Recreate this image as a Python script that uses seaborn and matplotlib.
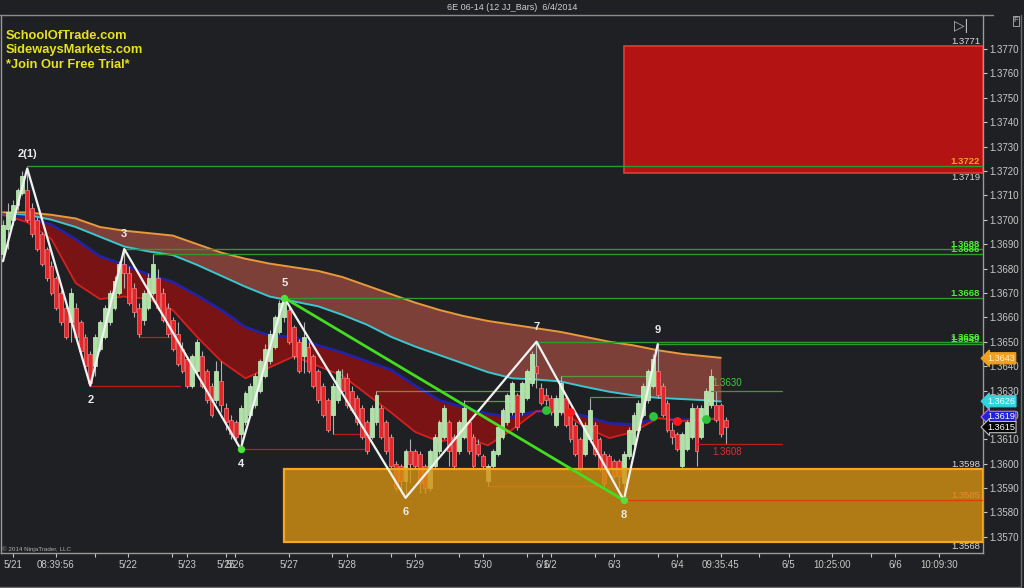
import numpy as np
import matplotlib
matplotlib.use("Agg")
import matplotlib.pyplot as plt
import matplotlib.transforms as mtransforms
from matplotlib.lines import Line2D
from matplotlib.patches import Rectangle
import seaborn as sns

# ---------------- data (prices stored as 1/10000 above 1.3500) ----------------
BASE = 1.35
SCALE = 10000.0

OPEN = [186, 196, 200, 206, 211, 212, 205, 200, 194, 188, 181, 176, 170, 164, 158, 164, 158, 152, 145, 140,
        147, 152, 158, 164, 170, 182, 178, 172, 164, 159, 164, 170, 176, 170, 164, 159, 153, 147, 143, 132,
        138, 144, 138, 132, 126, 134, 123, 118, 117, 112, 117, 120, 124, 130, 136, 142, 148, 154, 160, 163,
        156, 150, 144, 148, 144, 138, 132, 126, 120, 126, 135, 135, 130, 127, 123, 117, 111, 117, 123, 117,
        111, 100, 99, 93, 105, 105, 104, 99, 90, 99, 105, 111, 117, 111, 105, 111, 117, 111, 108, 103,
        93, 99, 104, 111, 117, 121, 128, 121, 127, 133, 140, 131, 128, 127, 116, 121, 127, 121, 116, 110,
        104, 110, 116, 110, 104, 103, 101, 101, 92, 103, 108, 114, 120, 126, 132, 138, 132, 125, 114, 112,
        99, 106, 111, 123, 111, 118, 124, 124, 124, 118]
CLOSE = [198, 203, 206, 212, 218, 200, 194, 188, 182, 176, 170, 164, 158, 152, 170, 152, 146, 140, 133, 152,
         158, 164, 170, 175, 182, 178, 166, 162, 153, 170, 176, 182, 164, 159, 153, 147, 141, 138, 132, 144,
         150, 132, 126, 120, 138, 124, 117, 112, 111, 123, 129, 132, 136, 142, 147, 153, 160, 166, 167, 150,
         144, 138, 152, 138, 132, 126, 120, 114, 132, 138, 130, 124, 122, 117, 111, 105, 123, 128, 111, 105,
         99, 90, 93, 105, 100, 99, 92, 90, 105, 111, 117, 123, 105, 99, 117, 123, 105, 99, 104, 99,
         99, 105, 115, 122, 128, 133, 115, 133, 138, 145, 137, 125, 126, 121, 127, 133, 116, 110, 104, 98,
         116, 122, 104, 98, 92, 98, 95, 95, 104, 114, 120, 125, 132, 138, 143, 128, 120, 114, 111, 106,
         112, 117, 123, 105, 123, 130, 136, 118, 112, 115]
HIGH = [200, 207, 208, 213, 220, 221, 207, 201, 195, 189, 183, 177, 171, 166, 172, 166, 159, 153, 146, 153,
        159, 165, 171, 177, 183, 188, 181, 174, 166, 171, 178, 186, 180, 172, 166, 160, 158, 150, 144, 145,
        151, 146, 139, 133, 142, 142, 125, 120, 118, 124, 130, 133, 137, 143, 149, 155, 161, 167, 168, 165,
        157, 151, 158, 150, 145, 139, 133, 127, 133, 139, 139, 137, 132, 128, 124, 118, 124, 130, 124, 118,
        112, 101, 100, 106, 110, 106, 105, 100, 106, 112, 118, 124, 118, 112, 118, 126, 118, 112, 110, 104,
        100, 106, 116, 123, 129, 134, 129, 134, 139, 146, 150, 133, 131, 128, 128, 136, 128, 122, 117, 111,
        117, 127, 117, 111, 105, 104, 102, 102, 105, 115, 121, 126, 133, 139, 145, 149, 133, 126, 117, 113,
        113, 118, 125, 124, 124, 131, 139, 130, 125, 119]
LOW = [183, 188, 198, 204, 210, 199, 193, 187, 181, 175, 169, 163, 157, 151, 150, 151, 145, 139, 132, 136,
       146, 151, 157, 163, 169, 172, 165, 160, 152, 157, 163, 169, 163, 158, 152, 146, 140, 137, 131, 131,
       137, 131, 125, 119, 125, 121, 114, 110, 109, 106, 116, 119, 123, 129, 135, 141, 147, 153, 158, 149,
       143, 137, 137, 137, 131, 125, 119, 113, 112, 125, 129, 123, 121, 116, 110, 104, 110, 116, 110, 104,
       98, 89, 88, 86, 92, 98, 88, 88, 89, 98, 104, 110, 99, 98, 104, 110, 104, 98, 103, 98,
       91, 98, 103, 110, 116, 120, 114, 120, 126, 132, 131, 124, 124, 120, 115, 120, 115, 109, 103, 97,
       103, 109, 103, 97, 91, 96, 94, 90, 85, 102, 107, 113, 119, 125, 131, 127, 119, 113, 108, 105,
       98, 105, 110, 99, 110, 117, 123, 117, 111, 108]

# swing zigzag
ZZ_BAR = [0, 5, 18, 25, 49, 58, 83, 110, 128, 135]
ZZ_PRICE = [183, 221, 132, 188, 106, 168, 86, 150, 85, 149]
ZZ_TEXT = ["", "2(1)", "2", "3", "4", "5", "6", "7", "8", "9"]

# moving-average ribbon, read every 5 bars
MA_X = [0, 5, 10, 15, 20, 25, 30, 35, 40, 45, 50, 55, 60, 65, 70, 75, 80, 85, 90, 95,
        100, 105, 110, 115, 120, 125, 130, 135, 140, 145, 148]
MA_ORANGE = [203, 203, 202, 200.5, 197, 195.5, 194.5, 193.5, 190, 186.5, 184, 182, 180.5, 179, 176.5, 173,
             169.5, 166, 163, 160.5, 158.5, 157, 155.5, 154, 152, 150, 148.5, 146.5, 145, 144, 143.4]
MA_CYAN = [202, 202, 200, 197, 193, 189, 187, 185.5, 181.5, 177, 172.5, 168.5, 166.5, 164.5, 161, 157,
           152, 148, 144.5, 141, 137.5, 135, 134.5, 133.7, 131.5, 129.5, 128, 127, 126.5, 126, 125.5]
MA_BLUE = [202, 201, 198, 192, 185, 181.5, 177.5, 174.5, 169, 163, 156, 152.5, 152, 148.5, 145.5, 142,
           138.5, 132, 126, 123, 120.5, 119, 121.5, 121.5, 119.5, 116.6, 116, 118.7, 118, 118.4, 118.7]
MA_RED = [202, 199, 192, 174, 167.5, 168.5, 167.5, 163, 152, 142, 135, 139.5, 144, 140, 136, 128.5,
          121, 113, 109, 111, 107.5, 114, 121.5, 121.5, 115, 110.5, 113, 118.7, 117.5, 118, 118.7]

# cross dots on ribbon
XDOT_BAR = [112, 117, 134, 139, 145]
XDOT_PRICE = [122, 121, 119.5, 117.5, 118.5]
XDOT_UP = [True, False, True, False, True]

# horizontal levels from swing highs (green) – start bar, price, label
LEVEL_START = [5, 25, 31, 58, 110, 135]
LEVEL_PRICE = [222, 188, 186, 168, 150, 149]
LEVEL_TEXT = ["1.3722", "1.3688", "1.3686", "1.3668", "1.3650", "1.3649"]

# short swing lines: start, end, price
RED_SW_START = [18, 28, 49, 68, 100]
RED_SW_END = [36.5, 36.5, 75, 75, 124]
RED_SW_PRICE = [132, 152, 106, 112, 91]
GRN_SW_START = [77, 95, 115, 121]
GRN_SW_END = [107.5, 106, 133, 133]
GRN_SW_PRICE = [130, 125.5, 136, 127.5]

# zones
SUPPLY_START, SUPPLY_TOP, SUPPLY_BOT = 128, 271, 219
DEMAND_START, DEMAND_TOP, DEMAND_BOT = 57.9, 98, 68
DEMAND_MID = 85

# x axis labels
XT_POS = [2.0, 10.9, 19.0, 25.8, 34.8, 38.0, 46.0, 47.9, 58.9, 67.9, 71.0, 80.0, 84.9, 94.1, 99.0,
          108.0, 111.1, 112.9, 122.1, 126.0, 135.1, 139.0, 148.0, 155.9, 162.0, 170.9, 179.0, 184.0, 193.0]
XT_LAB = ["5/21", "08:39:56", "", "5/22", "", "5/23", "5/25", "5/26", "5/27", "", "5/28", "", "5/29", "",
          "5/30", "", "6/1", "6/2", "", "6/3", "", "6/4", "09:35:45", "", "6/5", "10:25:00", "", "6/6",
          "10:09:30"]
Y_TICKS = [3570, 3580, 3590, 3600, 3610, 3620, 3630, 3640, 3650, 3660, 3670, 3680, 3690, 3700, 3710,
           3720, 3730, 3740, 3750, 3760, 3770]


def P(v):
    return BASE + np.asarray(v, dtype=float) / SCALE


# ---------------- style ----------------
BG = "#1f2023"
sns.set_theme(style="dark", rc={"axes.facecolor": BG, "figure.facecolor": BG})
plt.rcParams["font.family"] = ["Liberation Sans", "DejaVu Sans"]

fig = plt.figure(figsize=(10.24, 5.88), dpi=100)
fig.patch.set_facecolor(BG)
ax = fig.add_axes([1 / 1024, 35 / 588, 982 / 1024, 538 / 588])
ax.set_facecolor(BG)
ax.grid(False)

XMIN, XMAX = -0.41, 202.06
ax.set_xlim(XMIN, XMAX)
ax.set_ylim(1.35634, 1.37839)

# ribbon fills
mx = np.array(MA_X, float)
o_, c_, b_, r_ = P(MA_ORANGE), P(MA_CYAN), P(MA_BLUE), P(MA_RED)
ax.fill_between(mx, c_, o_, color="#7c4039", lw=0, zorder=1)
ax.fill_between(mx, r_, b_, where=b_ >= r_, interpolate=True, color="#7a1414", lw=0, zorder=1)
sns.lineplot(x=mx, y=o_, ax=ax, color="#e89a3c", linewidth=1.4, zorder=2, legend=False)
sns.lineplot(x=mx, y=c_, ax=ax, color="#3cc6cf", linewidth=1.4, zorder=2, legend=False)
sns.lineplot(x=mx, y=b_, ax=ax, color="#2222a8", linewidth=1.9, zorder=2, legend=False)
sns.lineplot(x=mx, y=r_, ax=ax, color="#d42020", linewidth=1.3, zorder=2, legend=False)

# swing lines
for s, e, p in zip(RED_SW_START, RED_SW_END, RED_SW_PRICE):
    ax.plot([s, e], [P(p), P(p)], color="#b82020", lw=0.9, zorder=2.5)
for s, e, p in zip(GRN_SW_START, GRN_SW_END, GRN_SW_PRICE):
    ax.plot([s, e], [P(p), P(p)], color="#5a9a3a", lw=0.9, zorder=2.5)

# candles
o = P(OPEN); c = P(CLOSE); h = P(HIGH); l = P(LOW)
idx = np.arange(len(o))
up = c >= o
ax.vlines(idx, l, h, color="#b0b0b0", lw=0.8, zorder=3)
ax.bar(idx[up], (c - o)[up], bottom=o[up], width=0.8, color="#ade3a5", edgecolor="#d0f5c8",
       linewidth=0.5, zorder=4)
ax.bar(idx[~up], (o - c)[~up], bottom=c[~up], width=0.8, color="#e2262a", edgecolor="#ff7a7a",
       linewidth=0.5, zorder=4)

# zones
ax.add_patch(Rectangle((SUPPLY_START, P(SUPPLY_BOT)), XMAX - SUPPLY_START, P(SUPPLY_TOP) - P(SUPPLY_BOT),
                       fc="#c01212", ec="none", alpha=0.93, zorder=5))
ax.add_patch(Rectangle((SUPPLY_START, P(SUPPLY_BOT)), XMAX - SUPPLY_START, P(SUPPLY_TOP) - P(SUPPLY_BOT),
                       fc="none", ec="#e23a3a", lw=1.2, zorder=5.2))
ax.add_patch(Rectangle((DEMAND_START, P(DEMAND_BOT)), XMAX - DEMAND_START, P(DEMAND_TOP) - P(DEMAND_BOT),
                       fc="#d69212", ec="none", alpha=0.8, zorder=5))
ax.add_patch(Rectangle((DEMAND_START, P(DEMAND_BOT)), XMAX - DEMAND_START, P(DEMAND_TOP) - P(DEMAND_BOT),
                       fc="none", ec="#f5a623", lw=1.6, zorder=5.2))
ax.plot([ZZ_BAR[8], XMAX], [P(DEMAND_MID), P(DEMAND_MID)], color="#e03a10", lw=0.9, zorder=5.5)

# level lines
for s, p in zip(LEVEL_START, LEVEL_PRICE):
    ax.plot([s, XMAX], [P(p), P(p)], color="#2e9a2e", lw=1.0, zorder=5.5)

# recent short levels
ax.plot([146, 160.6], [P(130), P(130)], color="#3a9a3a", lw=0.9, zorder=5.5)
ax.plot([143.1, 160.6], [P(108), P(108)], color="#b82020", lw=0.9, zorder=5.5)
ax.text(146.2, P(131), "1.3630", color="#3ad03a", fontsize=7, ha="left", va="bottom", zorder=6)
ax.text(146.2, P(107), "1.3608", color="#d83030", fontsize=7, ha="left", va="top", zorder=6)

# zigzag + trendline
sns.lineplot(x=ZZ_BAR, y=P(ZZ_PRICE), ax=ax, sort=False, estimator=None, color="#f2f2f2",
             linewidth=1.6, zorder=7, legend=False)
ax.plot([ZZ_BAR[5], ZZ_BAR[8]], [P(ZZ_PRICE[5]), P(ZZ_PRICE[8])], color="#44dd22", lw=2.0, zorder=7)
for k in (4, 5, 8):
    ax.scatter([ZZ_BAR[k]], [P(ZZ_PRICE[k])], s=28, color="#52e03a", zorder=8, lw=0)
for xb, yp, u in zip(XDOT_BAR, XDOT_PRICE, XDOT_UP):
    ax.scatter([xb], [P(yp)], s=40, color="#2ec43a" if u else "#ff1a1a", zorder=8, lw=0)

# swing labels
for k in range(1, len(ZZ_BAR)):
    above = ZZ_PRICE[k] > ZZ_PRICE[k - 1]
    ax.annotate(ZZ_TEXT[k], (ZZ_BAR[k], P(ZZ_PRICE[k])), xytext=(0, 10.5 if above else -10.5),
                textcoords="offset points", ha="center", va="center", color="#ececec",
                fontsize=8, fontweight="bold", zorder=9)

# right-edge labels inside plot
tr = mtransforms.blended_transform_factory(ax.transAxes, ax.transData)
for t, p in zip(LEVEL_TEXT, LEVEL_PRICE):
    col = "#f0a030" if t == "1.3722" else "#4cf030"
    ax.text(0.997, P(p), t, transform=tr, ha="right", va="bottom", color=col, fontsize=6.8,
            fontweight="bold", zorder=9)
ax.text(0.997, P(DEMAND_MID), "1.3585", transform=tr, ha="right", va="bottom", color="#f08a30",
        fontsize=6.8, zorder=9)
for t, p, va in (("1.3771", SUPPLY_TOP, "bottom"), ("1.3719", SUPPLY_BOT, "top"),
                 ("1.3598", DEMAND_TOP, "bottom"), ("1.3568", DEMAND_BOT, "top")):
    ax.text(0.997, P(p), t, transform=tr, ha="right", va=va, color="#d8d8d8", fontsize=6.8, zorder=9)

# price flags
for t, p, fc, ec, tc in (("1.3643", 143.2, "#f0a020", "#f0a020", "#fff2c8"),
                         ("1.3626", 125.6, "#30d4de", "#30d4de", "#e8ffff"),
                         ("1.3619", 119.2, "#2020dd", "#d070d0", "#ffffff"),
                         ("1.3615", 115.0, "#050505", "#c0c0c0", "#ffffff")):
    ax.text(1.004, P(p), t, transform=tr, ha="left", va="center", color=tc, fontsize=6.6,
            zorder=10, clip_on=False,
            bbox=dict(boxstyle="larrow,pad=0.12", fc=fc, ec=ec, lw=0.8))

# axes styling
ax.yaxis.tick_right()
ax.set_yticks(P(np.array(Y_TICKS) - 3500))
ax.set_yticklabels([f"1.{v}" for v in Y_TICKS])
ax.set_xticks(XT_POS)
ax.set_xticklabels(XT_LAB)
ax.tick_params(axis="y", colors="#c8c8c8", labelcolor="#c8c8c8", direction="out", length=3,
               width=0.8, labelsize=7, pad=1.5, right=True, left=False)
ax.tick_params(axis="x", colors="#c8c8c8", labelcolor="#c8c8c8", direction="out", length=3,
               width=0.8, labelsize=7, pad=2, bottom=True)
ax.set_xlabel("")
ax.set_ylabel("")
ax.spines["top"].set_visible(False)
for side in ("right", "bottom", "left"):
    ax.spines[side].set_visible(True)
    ax.spines[side].set_color("#9a9a9a")
    ax.spines[side].set_linewidth(1.0)

# window chrome
fig.add_artist(Line2D([0, 993 / 1024], [1 - 15 / 588] * 2, transform=fig.transFigure, color="#8c8c8c", lw=1))
fig.add_artist(Line2D([1021 / 1024] * 2, [1 - 15 / 588, 1 / 588], transform=fig.transFigure, color="#6a6a6a", lw=1))
fig.add_artist(Line2D([0, 1021 / 1024], [1.5 / 588] * 2, transform=fig.transFigure, color="#6a6a6a", lw=1))
fig.text(0.5, 1 - 7 / 588, "6E 06-14 (12 JJ_Bars)  6/4/2014", ha="center", va="center",
         color="#d0d0d0", fontsize=6.5)
fig.text(6 / 1024, 1 - 36 / 588, "SchoolOfTrade.com", color="#e6e21e", fontsize=9.3,
         fontweight="bold", va="center", ha="left")
fig.text(6 / 1024, 1 - 50.5 / 588, "SidewaysMarkets.com", color="#e6e21e", fontsize=9.3,
         fontweight="bold", va="center", ha="left")
fig.text(6 / 1024, 1 - 65 / 588, "*Join Our Free Trial*", color="#e6e21e", fontsize=9.3,
         fontweight="bold", va="center", ha="left")
fig.text(2 / 1024, 1 - 549 / 588, "© 2014 NinjaTrader, LLC", color="#b0b0b0", fontsize=4.5,
         va="center", ha="left")
fig.text(961 / 1024, 1 - 26 / 588, "▷|", color="#b8b8b8", fontsize=10, ha="center", va="center")
fig.text(1016 / 1024, 1 - 21 / 588, "F", color="#c8c8c8", fontsize=5.5, ha="center", va="center",
         bbox=dict(boxstyle="square,pad=0.15", fc="none", ec="#a0a0a0", lw=0.7))

fig.savefig("out.png", dpi=100, facecolor=BG)
